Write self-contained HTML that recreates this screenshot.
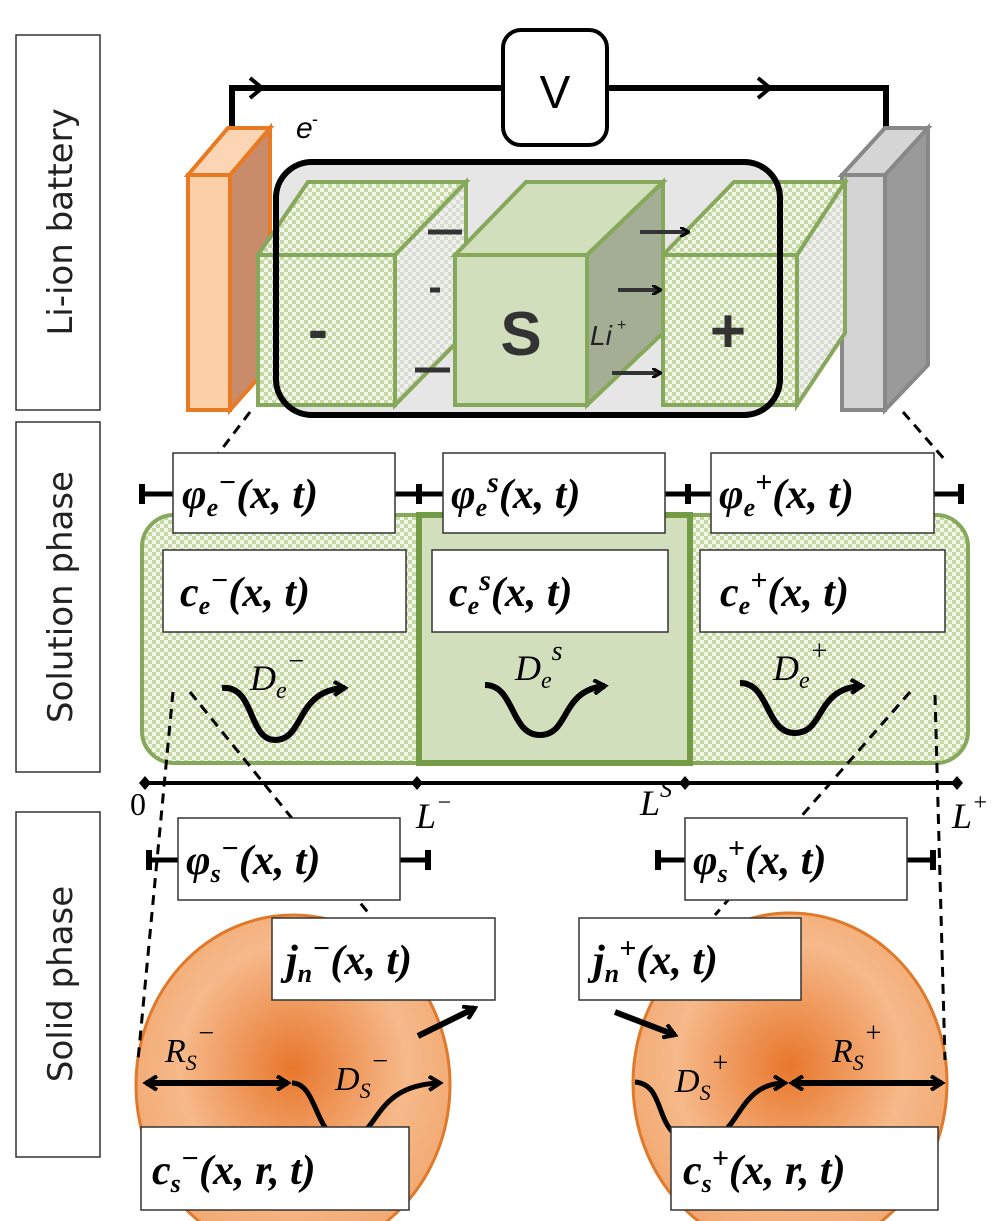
<!DOCTYPE html>
<html><head><meta charset="utf-8"><style>
html,body{margin:0;padding:0;background:#fff;}
svg{display:block}
.m{font-family:"Liberation Serif",serif;font-style:italic;font-weight:bold;font-size:42px;fill:#000}
.s{font-size:26px}
.side{font-family:"DejaVu Sans","Liberation Sans",sans-serif;font-size:34px;fill:#222}
</style></head><body>
<svg width="1005" height="1221" viewBox="0 0 1005 1221" xmlns="http://www.w3.org/2000/svg">
<defs>
<pattern id="chk" width="8" height="8" patternUnits="userSpaceOnUse">
<rect width="8" height="8" fill="#f3f7ea"/><rect width="4" height="4" fill="#c6d8a6"/><rect x="4" y="4" width="4" height="4" fill="#c6d8a6"/>
</pattern>
<pattern id="chk2" width="8" height="8" patternUnits="userSpaceOnUse">
<rect width="8" height="8" fill="#f0f0ee"/><rect width="4" height="4" fill="#d8dcd0"/><rect x="4" y="4" width="4" height="4" fill="#d8dcd0"/>
</pattern>
<radialGradient id="og" cx="0.5" cy="0.45" r="0.6">
<stop offset="0" stop-color="#e8772c"/><stop offset="0.6" stop-color="#f6b98a"/><stop offset="1" stop-color="#f0a46a"/>
</radialGradient>
<marker id="ah" markerWidth="10" markerHeight="10" refX="8" refY="5" orient="auto" markerUnits="userSpaceOnUse"><path d="M0,0 L9,5 L0,10" fill="none" stroke="#000" stroke-width="3"/></marker>
<marker id="ab" markerWidth="16" markerHeight="16" refX="12" refY="8" orient="auto" markerUnits="userSpaceOnUse"><path d="M1,1 L12,8 L1,15" fill="none" stroke="#000" stroke-width="4"/></marker>
<marker id="abs" markerWidth="16" markerHeight="16" refX="4" refY="8" orient="auto" markerUnits="userSpaceOnUse"><path d="M15,1 L4,8 L15,15" fill="none" stroke="#000" stroke-width="4"/></marker>
</defs>

<rect x="16" y="35" width="84" height="375" fill="#fff" stroke="#333" stroke-width="1.5"/>
<text class="side" transform="translate(72,222) rotate(-90)" text-anchor="middle">Li-ion battery</text>
<rect x="16" y="422" width="84" height="350" fill="#fff" stroke="#333" stroke-width="1.5"/>
<text class="side" transform="translate(72,597) rotate(-90)" text-anchor="middle">Solution phase</text>
<rect x="16" y="812" width="84" height="345" fill="#fff" stroke="#333" stroke-width="1.5"/>
<text class="side" transform="translate(72,984) rotate(-90)" text-anchor="middle">Solid phase</text>

<path d="M232,140 V88 H886 V140" fill="none" stroke="#000" stroke-width="6"/>
<path d="M250,78 L262,88 L250,98" fill="none" stroke="#000" stroke-width="4"/>
<path d="M758,78 L770,88 L758,98" fill="none" stroke="#000" stroke-width="4"/>
<rect x="503" y="30" width="104" height="115" rx="18" fill="#fff" stroke="#000" stroke-width="4"/>
<text x="555" y="108" text-anchor="middle" font-family="Liberation Sans,sans-serif" font-size="46" fill="#000">V</text>
<text x="296" y="138" font-family="Liberation Sans,sans-serif" font-style="italic" font-size="30">e</text>
<text x="312" y="125" font-family="Liberation Sans,sans-serif" font-size="18">-</text>

<polygon points="230,175 270,128 270,365 230,410" fill="#c98c6a" stroke="#e87a23" stroke-width="4"/>
<polygon points="188,175 228,128 270,128 230,175" fill="#fbd5b4" stroke="#e87a23" stroke-width="4"/>
<rect x="188" y="175" width="42" height="235" fill="#fbcfa8" stroke="#e87a23" stroke-width="4"/>
<polygon points="885,175 928,128 928,365 885,410" fill="#9a9a9a" stroke="#888" stroke-width="4"/>
<polygon points="842,175 885,128 928,128 885,175" fill="#d6d6d6" stroke="#888" stroke-width="4"/>
<rect x="842" y="175" width="43" height="235" fill="#d4d4d4" stroke="#888" stroke-width="4"/>

<rect x="276" y="162" width="504" height="253" rx="36" fill="#e6e6e6"/>
<polygon points="258,255 308,182 466,182 395,255" fill="url(#chk)" stroke="#86a85a" stroke-width="4"/>
<polygon points="395,255 466,182 466,333 395,405" fill="url(#chk2)" stroke="#86a85a" stroke-width="4"/>
<rect x="258" y="255" width="137" height="150" fill="url(#chk)" stroke="#86a85a" stroke-width="4"/>
<text x="318" y="350" text-anchor="middle" font-family="Liberation Sans,sans-serif" font-weight="bold" font-size="60" fill="#333">-</text>
<polygon points="663,255 734,182 845,182 797,255" fill="url(#chk)" stroke="#86a85a" stroke-width="4"/>
<polygon points="797,255 845,182 845,333 797,405" fill="url(#chk2)" stroke="#86a85a" stroke-width="4"/>
<rect x="663" y="255" width="134" height="150" fill="url(#chk)" stroke="#86a85a" stroke-width="4"/>
<text x="728" y="352" text-anchor="middle" font-family="Liberation Sans,sans-serif" font-weight="bold" font-size="62" fill="#333">+</text>
<polygon points="455,255 526,182 663,182 587,255" fill="#d2dfbc" stroke="#86a85a" stroke-width="4"/>
<polygon points="587,255 663,182 663,333 587,405" fill="#a3ae94" stroke="#86a85a" stroke-width="4"/>
<rect x="455" y="255" width="132" height="150" fill="#d2dfbc" stroke="#86a85a" stroke-width="4"/>
<text x="521" y="355" text-anchor="middle" font-family="Liberation Sans,sans-serif" font-weight="bold" font-size="62" fill="#333">S</text>
<text x="590" y="345" font-family="Liberation Sans,sans-serif" font-style="italic" font-size="28" fill="#222">Li</text>
<text x="617" y="330" font-family="Liberation Sans,sans-serif" font-size="16" fill="#222">+</text>
<line x1="428" y1="232" x2="462" y2="232" stroke="#333" stroke-width="5"/>
<line x1="430" y1="290" x2="440" y2="290" stroke="#333" stroke-width="5"/>
<line x1="415" y1="370" x2="450" y2="370" stroke="#333" stroke-width="5"/>
<line x1="640" y1="232" x2="688" y2="232" stroke="#333" stroke-width="4" marker-end="url(#ah)"/>
<line x1="618" y1="290" x2="660" y2="290" stroke="#333" stroke-width="4" marker-end="url(#ah)"/>
<line x1="612" y1="373" x2="660" y2="373" stroke="#333" stroke-width="4" marker-end="url(#ah)"/>
<rect x="276" y="162" width="504" height="253" rx="36" fill="none" stroke="#000" stroke-width="6"/>

<line x1="250" y1="412" x2="215" y2="458" stroke="#000" stroke-width="3" stroke-dasharray="10,7"/>
<line x1="903" y1="412" x2="945" y2="460" stroke="#000" stroke-width="3" stroke-dasharray="10,7"/>

<rect x="142" y="515" width="826" height="248" rx="32" fill="url(#chk)" stroke="#86a85a" stroke-width="4"/>
<rect x="419" y="515" width="271" height="248" fill="#d2dfbc" stroke="#739a45" stroke-width="6"/>
<line x1="140" y1="494" x2="963" y2="494" stroke="#000" stroke-width="5"/>
<line x1="142" y1="484" x2="142" y2="504" stroke="#000" stroke-width="6"/>
<line x1="961" y1="484" x2="961" y2="504" stroke="#000" stroke-width="6"/>
<line x1="419" y1="484" x2="419" y2="504" stroke="#000" stroke-width="6"/>
<line x1="688" y1="484" x2="688" y2="504" stroke="#000" stroke-width="6"/>
<rect x="173" y="453" width="222" height="80" fill="#fff" stroke="#333" stroke-width="1.5"/>
<rect x="443" y="453" width="222" height="80" fill="#fff" stroke="#333" stroke-width="1.5"/>
<rect x="711" y="453" width="223" height="80" fill="#fff" stroke="#333" stroke-width="1.5"/>
<text class="m" x="182" y="508">φ<tspan class="s" dy="8">e</tspan><tspan dy="-24" font-size="30">−</tspan><tspan dy="16">(x, t)</tspan></text>
<text class="m" x="451" y="508">φ<tspan class="s" dy="8">e</tspan><tspan dy="-24" font-size="30">s</tspan><tspan dy="16">(x, t)</tspan></text>
<text class="m" x="719" y="508">φ<tspan class="s" dy="8">e</tspan><tspan dy="-24" font-size="30">+</tspan><tspan dy="16">(x, t)</tspan></text>
<rect x="163" y="550" width="243" height="82" fill="#fff" stroke="#333" stroke-width="1.5"/>
<rect x="432" y="550" width="236" height="82" fill="#fff" stroke="#333" stroke-width="1.5"/>
<rect x="700" y="550" width="245" height="82" fill="#fff" stroke="#333" stroke-width="1.5"/>
<text class="m" x="180" y="606">c<tspan class="s" dy="8">e</tspan><tspan dy="-24" font-size="30">−</tspan><tspan dy="16">(x, t)</tspan></text>
<text class="m" x="449" y="606">c<tspan class="s" dy="8">e</tspan><tspan dy="-24" font-size="30">s</tspan><tspan dy="16">(x, t)</tspan></text>
<text class="m" x="720" y="606">c<tspan class="s" dy="8">e</tspan><tspan dy="-24" font-size="30">+</tspan><tspan dy="16">(x, t)</tspan></text>
<g fill="none" stroke="#000" stroke-width="6">
<path d="M222,688 C255,685 248,740 275,740 C305,740 295,690 345,688" marker-end="url(#ab)"/>
<path d="M485,685 C515,685 510,735 540,735 C570,735 560,690 605,686" marker-end="url(#ab)"/>
<path d="M740,683 C770,683 765,733 795,733 C825,733 815,688 862,686" marker-end="url(#ab)"/>
</g>
<text x="250" y="690" font-family="Liberation Serif,serif" font-style="italic" font-size="36">D<tspan font-size="24" dy="8">e</tspan><tspan font-size="28" dy="-28">−</tspan></text>
<text x="515" y="680" font-family="Liberation Serif,serif" font-style="italic" font-size="36">D<tspan font-size="24" dy="8">e</tspan><tspan font-size="28" dy="-28">s</tspan></text>
<text x="773" y="680" font-family="Liberation Serif,serif" font-style="italic" font-size="36">D<tspan font-size="24" dy="8">e</tspan><tspan font-size="28" dy="-28">+</tspan></text>

<line x1="145" y1="783" x2="960" y2="783" stroke="#000" stroke-width="4"/>
<g fill="#000">
<polygon points="145,776 151,783 145,790 139,783"/><polygon points="417,776 423,783 417,790 411,783"/>
<polygon points="685,776 691,783 685,790 679,783"/><polygon points="957,776 963,783 957,790 951,783"/>
</g>
<text x="130" y="815" font-family="Liberation Serif,serif" font-size="32">0</text>
<text x="416" y="828" font-family="Liberation Serif,serif" font-style="italic" font-size="36">L<tspan font-size="24" dy="-18">−</tspan></text>
<text x="640" y="815" font-family="Liberation Serif,serif" font-style="italic" font-size="36">L<tspan font-size="24" dy="-18">S</tspan></text>
<text x="952" y="828" font-family="Liberation Serif,serif" font-style="italic" font-size="36">L<tspan font-size="24" dy="-18">+</tspan></text>

<ellipse cx="293" cy="1085" rx="157" ry="170" fill="url(#og)" stroke="#e07a2a" stroke-width="3"/>
<ellipse cx="790" cy="1083" rx="157" ry="170" fill="url(#og)" stroke="#e07a2a" stroke-width="3"/>

<g stroke="#000" stroke-width="3" stroke-dasharray="10,7" fill="none">
<line x1="173" y1="692" x2="138" y2="1060"/>
<line x1="190" y1="692" x2="370" y2="915"/>
<line x1="935" y1="695" x2="945" y2="1060"/>
<line x1="910" y1="692" x2="715" y2="915"/>
</g>

<line x1="147" y1="860" x2="430" y2="860" stroke="#000" stroke-width="5"/>
<line x1="149" y1="850" x2="149" y2="870" stroke="#000" stroke-width="6"/>
<line x1="428" y1="850" x2="428" y2="870" stroke="#000" stroke-width="6"/>
<line x1="656" y1="860" x2="935" y2="860" stroke="#000" stroke-width="5"/>
<line x1="658" y1="850" x2="658" y2="870" stroke="#000" stroke-width="6"/>
<line x1="933" y1="850" x2="933" y2="870" stroke="#000" stroke-width="6"/>
<rect x="178" y="818" width="222" height="82" fill="#fff" stroke="#333" stroke-width="1.5"/>
<rect x="685" y="818" width="222" height="82" fill="#fff" stroke="#333" stroke-width="1.5"/>
<text class="m" x="186" y="874">φ<tspan class="s" dy="8">s</tspan><tspan dy="-24" font-size="30">−</tspan><tspan dy="16">(x, t)</tspan></text>
<text class="m" x="693" y="874">φ<tspan class="s" dy="8">s</tspan><tspan dy="-24" font-size="30">+</tspan><tspan dy="16">(x, t)</tspan></text>

<rect x="272" y="918" width="223" height="82" fill="#fff" stroke="#333" stroke-width="1.5"/>
<rect x="579" y="918" width="222" height="82" fill="#fff" stroke="#333" stroke-width="1.5"/>
<text class="m" x="286" y="974">j<tspan class="s" dy="8">n</tspan><tspan dy="-24" font-size="30">−</tspan><tspan dy="16">(x, t)</tspan></text>
<text class="m" x="593" y="974">j<tspan class="s" dy="8">n</tspan><tspan dy="-24" font-size="30">+</tspan><tspan dy="16">(x, t)</tspan></text>

<line x1="418" y1="1036" x2="475" y2="1008" stroke="#000" stroke-width="6" marker-end="url(#ab)"/>
<line x1="615" y1="1012" x2="675" y2="1035" stroke="#000" stroke-width="6" marker-end="url(#ab)"/>

<line x1="146" y1="1083" x2="288" y2="1083" stroke="#000" stroke-width="6" marker-start="url(#abs)" marker-end="url(#ab)"/>
<line x1="792" y1="1083" x2="942" y2="1083" stroke="#000" stroke-width="6" marker-start="url(#abs)" marker-end="url(#ab)"/>
<path d="M292,1083 C318,1083 315,1140 345,1140 C380,1140 370,1085 440,1083" fill="none" stroke="#000" stroke-width="5" marker-end="url(#ab)"/>
<path d="M635,1082 C670,1085 650,1142 700,1142 C740,1142 735,1083 785,1083" fill="none" stroke="#000" stroke-width="5" marker-end="url(#ab)"/>
<text x="165" y="1062" font-family="Liberation Serif,serif" font-style="italic" font-size="34">R<tspan font-size="22" dy="8">S</tspan><tspan font-size="28" dy="-28">−</tspan></text>
<text x="335" y="1090" font-family="Liberation Serif,serif" font-style="italic" font-size="34">D<tspan font-size="22" dy="8">S</tspan><tspan font-size="28" dy="-28">−</tspan></text>
<text x="675" y="1092" font-family="Liberation Serif,serif" font-style="italic" font-size="34">D<tspan font-size="22" dy="8">S</tspan><tspan font-size="28" dy="-28">+</tspan></text>
<text x="832" y="1062" font-family="Liberation Serif,serif" font-style="italic" font-size="34">R<tspan font-size="22" dy="8">S</tspan><tspan font-size="28" dy="-28">+</tspan></text>

<rect x="141" y="1127" width="268" height="83" fill="#fff" stroke="#333" stroke-width="1.5"/>
<rect x="671" y="1127" width="267" height="83" fill="#fff" stroke="#333" stroke-width="1.5"/>
<text class="m" x="152" y="1184">c<tspan class="s" dy="8">s</tspan><tspan dy="-24" font-size="30">−</tspan><tspan dy="16">(x, r, t)</tspan></text>
<text class="m" x="683" y="1184">c<tspan class="s" dy="8">s</tspan><tspan dy="-24" font-size="30">+</tspan><tspan dy="16">(x, r, t)</tspan></text>
</svg>
</body></html>
